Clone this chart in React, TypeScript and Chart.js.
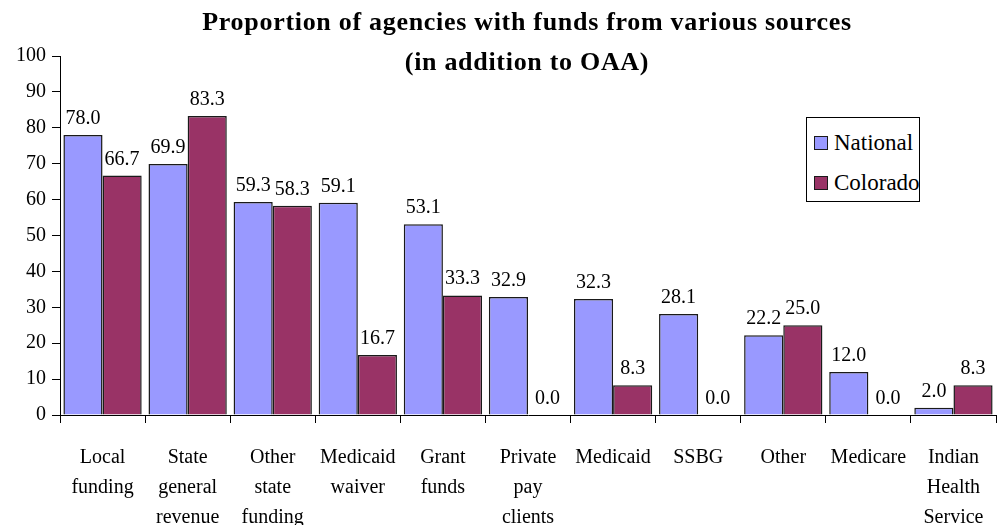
import React, { useEffect, useRef } from "react";
import { Chart, registerables } from "chart.js";

Chart.register(...registerables);

const titleLines = [
  "Proportion of agencies with funds from various sources",
  "(in addition to OAA)",
];
const categories: string[][] = [
  ["Local", "funding"],
  ["State", "general", "revenue"],
  ["Other", "state", "funding"],
  ["Medicaid", "waiver"],
  ["Grant", "funds"],
  ["Private", "pay", "clients"],
  ["Medicaid"],
  ["SSBG"],
  ["Other"],
  ["Medicare"],
  ["Indian", "Health", "Service"],
];
const seriesNames = ["National", "Colorado"];
const nationalValues = [78.0, 69.9, 59.3, 59.1, 53.1, 32.9, 32.3, 28.1, 22.2, 12.0, 2.0];
const coloradoValues = [66.7, 83.3, 58.3, 16.7, 33.3, 0.0, 8.3, 0.0, 25.0, 0.0, 8.3];
const seriesColors = ["#9999FF", "#993366"];
const yMin = 0;
const yMax = 100;
const yStep = 10;

const FONT = "'Liberation Serif', 'DejaVu Serif', serif";

const valueLabels = {
  id: "valueLabels",
  afterDatasetsDraw(chart: any) {
    const ctx = chart.ctx;
    ctx.save();
    ctx.font = `20px ${FONT}`;
    ctx.fillStyle = "#000";
    ctx.textAlign = "center";
    ctx.textBaseline = "alphabetic";
    chart.data.datasets.forEach((ds: any, i: number) => {
      const meta = chart.getDatasetMeta(i);
      meta.data.forEach((el: any, j: number) => {
        ctx.fillText(Number(ds.data[j]).toFixed(1), el.x, el.y - 11);
      });
    });
    ctx.restore();
  },
};

export default function App() {
  const canvasRef = useRef<HTMLCanvasElement | null>(null);

  useEffect(() => {
    if (!canvasRef.current) return;
    const chart = new Chart(canvasRef.current, {
      type: "bar",
      data: {
        labels: categories,
        datasets: [
          {
            label: seriesNames[0],
            data: nationalValues,
            backgroundColor: seriesColors[0],
            borderColor: "#1a1a1a",
            borderWidth: 1.5,
            categoryPercentage: 0.92,
            barPercentage: 1.0,
          },
          {
            label: seriesNames[1],
            data: coloradoValues,
            backgroundColor: seriesColors[1],
            borderColor: "#1a1a1a",
            borderWidth: 1.5,
            categoryPercentage: 0.92,
            barPercentage: 1.0,
          },
        ],
      },
      options: {
        animation: false,
        responsive: true,
        maintainAspectRatio: false,
        layout: { padding: { top: 56, right: 12, bottom: 0, left: 0 } },
        plugins: {
          legend: { display: false },
          title: { display: false },
          tooltip: { enabled: false },
        },
        scales: {
          x: {
            offset: true,
            grid: {
              display: true,
              offset: true,
              drawOnChartArea: false,
              drawTicks: true,
              tickLength: 8,
              color: "#000",
              lineWidth: 1,
            },
            border: { display: true, color: "#000", width: 1 },
            ticks: {
              color: "#000",
              font: { family: FONT, size: 20, lineHeight: 1.5 },
              padding: 20,
              maxRotation: 0,
              autoSkip: false,
            },
            afterFit(scale: any) {
              scale.height = 110;
            },
          },
          y: {
            min: yMin,
            max: yMax,
            ticks: {
              stepSize: yStep,
              color: "#000",
              font: { family: FONT, size: 20 },
              padding: 6,
            },
            grid: {
              display: true,
              drawOnChartArea: false,
              drawTicks: true,
              tickLength: 8,
              color: "#000",
              lineWidth: 1,
            },
            border: { display: true, color: "#000", width: 1 },
            afterFit(scale: any) {
              scale.width = 60;
            },
          },
        },
      },
      plugins: [valueLabels],
    });
    return () => chart.destroy();
  }, []);

  return (
    <div
      style={{
        position: "absolute",
        left: 0,
        top: 0,
        width: 1008,
        height: 525,
        overflow: "hidden",
        background: "#fff",
        fontFamily: FONT,
      }}
    >
      <canvas ref={canvasRef} />
      <div
        style={{
          position: "absolute",
          left: 0,
          width: 1054,
          top: 2,
          textAlign: "center",
          fontWeight: "bold",
          fontSize: 26,
          lineHeight: "40px",
          color: "#000",
          letterSpacing: 0.7,
        }}
      >
        {titleLines.map((t, i) => (
          <div key={i}>{t}</div>
        ))}
      </div>
      <div
        style={{
          position: "absolute",
          left: 806,
          top: 117,
          width: 114,
          height: 85,
          border: "1px solid #000",
          background: "#fff",
          boxSizing: "border-box",
        }}
      >
        {seriesNames.map((n, i) => (
          <div
            key={n}
            style={{
              position: "absolute",
              left: 7,
              top: 11 + i * 40,
              height: 28,
              display: "flex",
              alignItems: "center",
              fontSize: 23,
              whiteSpace: "nowrap",
            }}
          >
            <span
              style={{
                display: "inline-block",
                width: 14,
                height: 14,
                background: seriesColors[i],
                border: "1.5px solid #1a1a1a",
                boxSizing: "border-box",
                marginRight: 6,
              }}
            />
            <span>{n}</span>
          </div>
        ))}
      </div>
    </div>
  );
}
